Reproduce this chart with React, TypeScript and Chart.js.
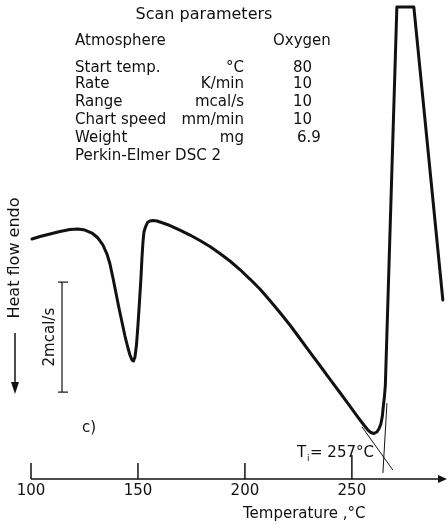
import React, { useEffect, useRef } from "react";
import { Chart, registerables } from "chart.js";

Chart.register(...registerables);

// Temperature (°C)
const temps = [
  100.47, 104.21, 108.88, 113.55, 118.22, 121.96, 125.23, 128.5, 131.31, 133.64,
  135.51, 136.92, 138.32, 139.72, 141.12, 142.52, 143.93, 145.33, 146.26, 147.2,
  147.9, 148.6, 149.3, 150.0, 150.7, 151.4, 151.87, 152.34, 152.8, 153.5,
  154.44, 155.61, 157.01, 158.88, 161.68, 164.95, 169.63, 174.3, 178.97, 183.64,
  188.32, 192.99, 197.66, 202.34, 207.01, 211.68, 216.36, 221.03, 225.7, 230.37,
  235.05, 239.72, 244.39, 249.07, 252.8, 255.61, 257.48, 258.88, 260.28, 261.68,
  262.62, 263.55, 264.25, 264.72, 265.19, 265.65, 271.03, 278.97, 292.52,
];
// Heat flow (mcal/s above the baseline axis) at those temperatures
const heatFlow = [
  4.364, 4.409, 4.455, 4.5, 4.536, 4.545, 4.527, 4.473, 4.382, 4.255,
  4.091, 3.909, 3.655, 3.382, 3.109, 2.855, 2.6, 2.382, 2.255, 2.164,
  2.145, 2.218, 2.436, 2.8, 3.218, 3.655, 4.018, 4.309, 4.491, 4.582,
  4.664, 4.691, 4.7, 4.691, 4.655, 4.609, 4.527, 4.436, 4.336, 4.227,
  4.1, 3.964, 3.809, 3.636, 3.455, 3.245, 3.027, 2.8, 2.555, 2.309,
  2.064, 1.818, 1.573, 1.327, 1.127, 0.982, 0.891, 0.845, 0.827, 0.855,
  0.909, 1.0, 1.145, 1.327, 1.491, 1.709, 8.582, 8.582, 3.255,
];

// Onset construction lines
const baselineTangentT = [254.7, 269.2];
const baselineTangentV = [0.95, 0.16];
const riseTangentT = [266.4, 264.5];
const riseTangentV = [1.38, 0.11];

// 2 mcal/s scale bar
const scaleBarT = [114.5, 114.5];
const scaleBarV = [1.58, 3.58];

const xTicks = [100, 150, 200, 250];
const xMin = 100;
const xMax = 294;
const yMax = 8.71;

const paramNames = ["Start temp.", "Rate", "Range", "Chart speed", "Weight"];
const paramUnits = ["°C", "K/min", "mcal/s", "mm/min", "mg"];
const paramValues = ["80", "10", "10", "10", "6.9"];

const FONT = '"DejaVu Sans", "Liberation Sans", sans-serif';
const INK = "#111111";

const annotations = {
  id: "annotations",
  afterDatasetsDraw(chart: any) {
    const { ctx } = chart;
    const x = chart.scales.x;
    const y = chart.scales.y;
    const y0 = y.getPixelForValue(0);
    const x0 = x.getPixelForValue(xMin);
    const xEnd = chart.chartArea.right + 1;
    ctx.save();
    ctx.strokeStyle = INK;
    ctx.fillStyle = INK;
    // x axis with arrow
    ctx.lineWidth = 1.5;
    ctx.beginPath();
    ctx.moveTo(x0, y0);
    ctx.lineTo(xEnd - 6, y0);
    ctx.stroke();
    ctx.beginPath();
    ctx.moveTo(xEnd - 9, y0 - 4);
    ctx.lineTo(xEnd, y0);
    ctx.lineTo(xEnd - 9, y0 + 4);
    ctx.closePath();
    ctx.fill();
    // ticks and labels
    ctx.font = `15px ${FONT}`;
    ctx.textAlign = "center";
    ctx.textBaseline = "alphabetic";
    for (const t of xTicks) {
      const px = x.getPixelForValue(t);
      ctx.lineWidth = 1.5;
      ctx.beginPath();
      ctx.moveTo(px, y0);
      ctx.lineTo(px, y0 - (t === 250 ? 24 : 16));
      ctx.stroke();
      ctx.fillText(String(t), px, 495);
    }
    ctx.textAlign = "left";
    ctx.fillText("Temperature ,°C", 243, 518);

    // scale bar caps
    const sbx = x.getPixelForValue(scaleBarT[0]);
    ctx.lineWidth = 1.2;
    for (const v of scaleBarV) {
      const py = y.getPixelForValue(v);
      ctx.beginPath();
      ctx.moveTo(sbx - 4, py);
      ctx.lineTo(sbx + 6, py);
      ctx.stroke();
    }
    // scale bar label (rotated)
    ctx.save();
    ctx.translate(sbx - 12, (y.getPixelForValue(scaleBarV[0]) + y.getPixelForValue(scaleBarV[1])) / 2);
    ctx.rotate(-Math.PI / 2);
    ctx.textAlign = "center";
    ctx.textBaseline = "middle";
    ctx.fillText("2mcal/s", 0, 0);
    ctx.restore();

    // Heat flow label + arrow
    ctx.save();
    ctx.translate(15, 258);
    ctx.rotate(-Math.PI / 2);
    ctx.textAlign = "center";
    ctx.textBaseline = "middle";
    ctx.font = `16px ${FONT}`;
    ctx.fillText("Heat flow endo", 0, 0);
    ctx.restore();
    ctx.lineWidth = 1.5;
    ctx.beginPath();
    ctx.moveTo(15, 333);
    ctx.lineTo(15, 386);
    ctx.stroke();
    ctx.beginPath();
    ctx.moveTo(11, 382);
    ctx.lineTo(15, 394);
    ctx.lineTo(19, 382);
    ctx.closePath();
    ctx.fill();

    // c)
    ctx.textAlign = "left";
    ctx.textBaseline = "alphabetic";
    ctx.fillText("c)", 82, 432);

    // Ti label
    ctx.fillText("T", 297, 457);
    ctx.font = `9px ${FONT}`;
    ctx.fillText("i", 307, 461);
    ctx.font = `15px ${FONT}`;
    ctx.fillText("= 257°C", 310, 457);

    // Scan parameter block
    ctx.textAlign = "center";
    ctx.font = `16px ${FONT}`;
    ctx.fillText("Scan parameters", 204, 19);
    ctx.font = `15px ${FONT}`;
    ctx.textAlign = "left";
    ctx.fillText("Atmosphere", 75, 45);
    ctx.fillText("Oxygen", 273, 45);
    const baselines = [72, 88, 106, 124, 142];
    paramNames.forEach((n, i) => {
      ctx.textAlign = "left";
      ctx.fillText(n, 75, baselines[i]);
      ctx.textAlign = "right";
      ctx.fillText(paramUnits[i], 244, baselines[i]);
      ctx.textAlign = "left";
      ctx.fillText(paramValues[i], i === 4 ? 297 : 293, baselines[i]);
    });
    ctx.textAlign = "left";
    ctx.fillText("Perkin-Elmer DSC 2", 75, 160);
    ctx.restore();
  },
};

export default function App() {
  const ref = useRef<HTMLCanvasElement | null>(null);
  useEffect(() => {
    if (!ref.current) return;
    const mk = (xs: number[], ys: number[]) => xs.map((t, i) => ({ x: t, y: ys[i] }));
    const chart = new Chart(ref.current, {
      type: "line",
      data: {
        datasets: [
          {
            data: mk(temps, heatFlow),
            borderColor: INK,
            borderWidth: 3,
            borderJoinStyle: "round",
            borderCapStyle: "round",
            pointRadius: 0,
            tension: 0,
            fill: false,
            clip: false as any,
          },
          {
            data: mk(baselineTangentT, baselineTangentV),
            borderColor: INK,
            borderWidth: 1,
            pointRadius: 0,
            tension: 0,
            clip: false as any,
          },
          {
            data: mk(riseTangentT, riseTangentV),
            borderColor: INK,
            borderWidth: 1,
            pointRadius: 0,
            tension: 0,
            clip: false as any,
          },
          {
            data: mk(scaleBarT, scaleBarV),
            borderColor: INK,
            borderWidth: 1.2,
            pointRadius: 0,
            tension: 0,
            clip: false as any,
          },
        ],
      },
      options: {
        responsive: false,
        animation: false,
        devicePixelRatio: 1,
        layout: { padding: { left: 31, right: 2, top: 0, bottom: 45 } },
        plugins: { legend: { display: false }, tooltip: { enabled: false } },
        scales: {
          x: { type: "linear", min: xMin, max: xMax, display: false },
          y: { type: "linear", min: 0, max: yMax, display: false },
        },
      },
      plugins: [annotations],
    });
    return () => chart.destroy();
  }, []);
  return (
    <div style={{ position: "absolute", left: 0, top: 0, width: 448, height: 524, background: "#fff" }}>
      <canvas ref={ref} width={448} height={524} />
    </div>
  );
}
